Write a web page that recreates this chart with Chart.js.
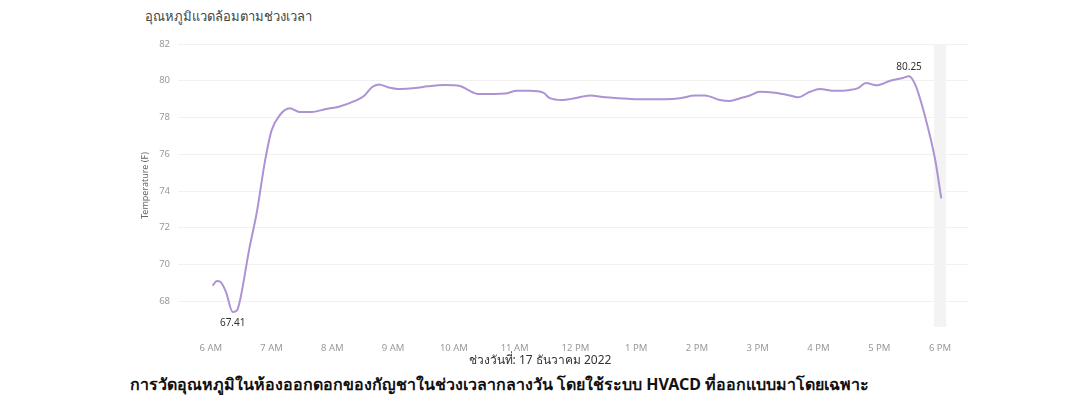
<!DOCTYPE html>
<html>
<head>
<meta charset="utf-8">
<script src="https://cdn.jsdelivr.net/npm/chart.js@4"></script>
<style>
	body { margin: 0; width: 1080px; height: 420px; background: #fff; font-family: "Noto Sans", sans-serif; position: relative; overflow: hidden; }
	#title { position: absolute; left: 145px; top: 6px; font-size: 13px; color: #444; }
	#wrap { position: absolute; left: 130px; top: 30px; width: 850px; height: 330px; }
	#date { position: absolute; left: 0; width: 1080px; top: 350px; text-align: center; font-size: 12px; color: #333; }
	#caption { position: absolute; left: 130px; top: 372px; font-size: 16px; font-weight: bold; color: #111; }
</style>
</head>
<body>
<div id="title">อุณหภูมิแวดล้อมตามช่วงเวลา</div>
<div id="wrap"><canvas id="tempChart"></canvas></div>
<div id="date">ช่วงวันที่: 17 ธันวาคม 2022</div>
<div id="caption">การวัดอุณหภูมิในห้องออกดอกของกัญชาในช่วงเวลากลางวัน โดยใช้ระบบ HVACD ที่ออกแบบมาโดยเฉพาะ</div>
<script>
// time of day in hours (6 = 6 AM, 18 = 6 PM)
const hours = [6.03, 6.1, 6.16, 6.25, 6.36, 6.43, 6.49, 6.63, 6.76, 6.89, 7.0, 7.14, 7.3, 7.46, 7.66, 7.88, 8.12, 8.37, 8.53, 8.65, 8.77, 8.91, 9.11, 9.36, 9.57, 9.85, 10.1, 10.23, 10.4, 10.67, 10.84, 11.04, 11.25, 11.47, 11.58, 11.78, 11.99, 12.24, 12.49, 12.73, 12.98, 13.23, 13.47, 13.72, 13.97, 14.13, 14.38, 14.54, 14.71, 14.87, 15.03, 15.28, 15.53, 15.66, 15.86, 16.02, 16.27, 16.52, 16.65, 16.78, 16.95, 17.18, 17.39, 17.49, 17.59, 17.75, 17.92, 18.02];
const temps = [68.85, 69.1, 69.05, 68.5, 67.41, 67.5, 68.2, 70.8, 72.9, 75.6, 77.3, 78.15, 78.5, 78.3, 78.3, 78.45, 78.6, 78.9, 79.2, 79.65, 79.8, 79.65, 79.55, 79.6, 79.7, 79.77, 79.72, 79.5, 79.28, 79.28, 79.3, 79.45, 79.45, 79.35, 79.05, 78.95, 79.05, 79.2, 79.1, 79.05, 79.0, 79.0, 79.0, 79.05, 79.2, 79.2, 78.95, 78.9, 79.05, 79.2, 79.4, 79.35, 79.2, 79.1, 79.4, 79.55, 79.45, 79.5, 79.6, 79.88, 79.75, 80.0, 80.15, 80.25, 79.8, 78.1, 75.7, 73.6];
const yTicks = [68, 70, 72, 74, 76, 78, 80, 82];
const xTicks = [6, 7, 8, 9, 10, 11, 12, 13, 14, 15, 16, 17, 18];
const xTickLabels = ["6 AM", "7 AM", "8 AM", "9 AM", "10 AM", "11 AM", "12 PM", "1 PM", "2 PM", "3 PM", "4 PM", "5 PM", "6 PM"];
const bandRange = [17.9, 18.1];

const minIdx = temps.indexOf(Math.min(...temps));
const maxIdx = temps.indexOf(Math.max(...temps));

const extras = {
	id: "extras",
	beforeDatasetsDraw(chart) {
		const { ctx, chartArea, scales } = chart;
		const x1 = scales.x.getPixelForValue(bandRange[0]);
		const x2 = scales.x.getPixelForValue(bandRange[1]);
		ctx.save();
		ctx.fillStyle = "#f3f3f3";
		ctx.fillRect(x1, chartArea.top, x2 - x1, chartArea.bottom - chartArea.top);
		ctx.restore();
	},
	afterDatasetsDraw(chart) {
		const { ctx, scales } = chart;
		ctx.save();
		ctx.font = "10px 'Noto Sans'";
		ctx.fillStyle = "#333";
		ctx.textAlign = "center";
		ctx.fillText(temps[minIdx].toFixed(2), scales.x.getPixelForValue(hours[minIdx]), scales.y.getPixelForValue(temps[minIdx]) + 14);
		ctx.fillText(temps[maxIdx].toFixed(2), scales.x.getPixelForValue(hours[maxIdx]), scales.y.getPixelForValue(temps[maxIdx]) - 6);
		ctx.restore();
	},
};

new Chart(document.getElementById("tempChart"), {
	type: "line",
	data: {
		datasets: [
			{
				data: hours.map((h, i) => ({ x: h, y: temps[i] })),
				borderColor: "#ac93d6",
				borderWidth: 2,
				pointRadius: 0,
				cubicInterpolationMode: "monotone",
			},
		],
	},
	options: {
		responsive: true,
		maintainAspectRatio: false,
		animation: false,
		layout: { padding: { top: 14, right: 12, left: 10, bottom: 0 } },
		plugins: { legend: { display: false }, tooltip: { enabled: false } },
		scales: {
			x: {
				type: "linear",
				min: 5.46,
				max: 18.46,
				afterBuildTicks: (s) => { s.ticks = xTicks.map((v) => ({ value: v })); },
				afterFit: (s) => { s.height = 33; },
				grid: { display: false },
				border: { display: false },
				ticks: {
					color: "#999",
					font: { size: 9.5, family: "Noto Sans" },
					maxRotation: 0,
					padding: 8,
					callback: (v) => xTickLabels[xTicks.indexOf(v)],
				},
			},
			y: {
				min: 66.6,
				max: 82,
				afterBuildTicks: (s) => { s.ticks = yTicks.map((v) => ({ value: v })); },
				afterFit: (s) => { s.width = 38; },
				grid: { color: "#f1f1f1", drawTicks: false },
				border: { display: false },
				title: { display: true, text: "Temperature (F)", color: "#666", font: { size: 9, family: "Noto Sans" }, padding: 0 },
				ticks: { color: "#999", font: { size: 9.5, family: "Noto Sans" }, padding: 8 },
			},
		},
	},
	plugins: [extras],
});
</script>
</body>
</html>
